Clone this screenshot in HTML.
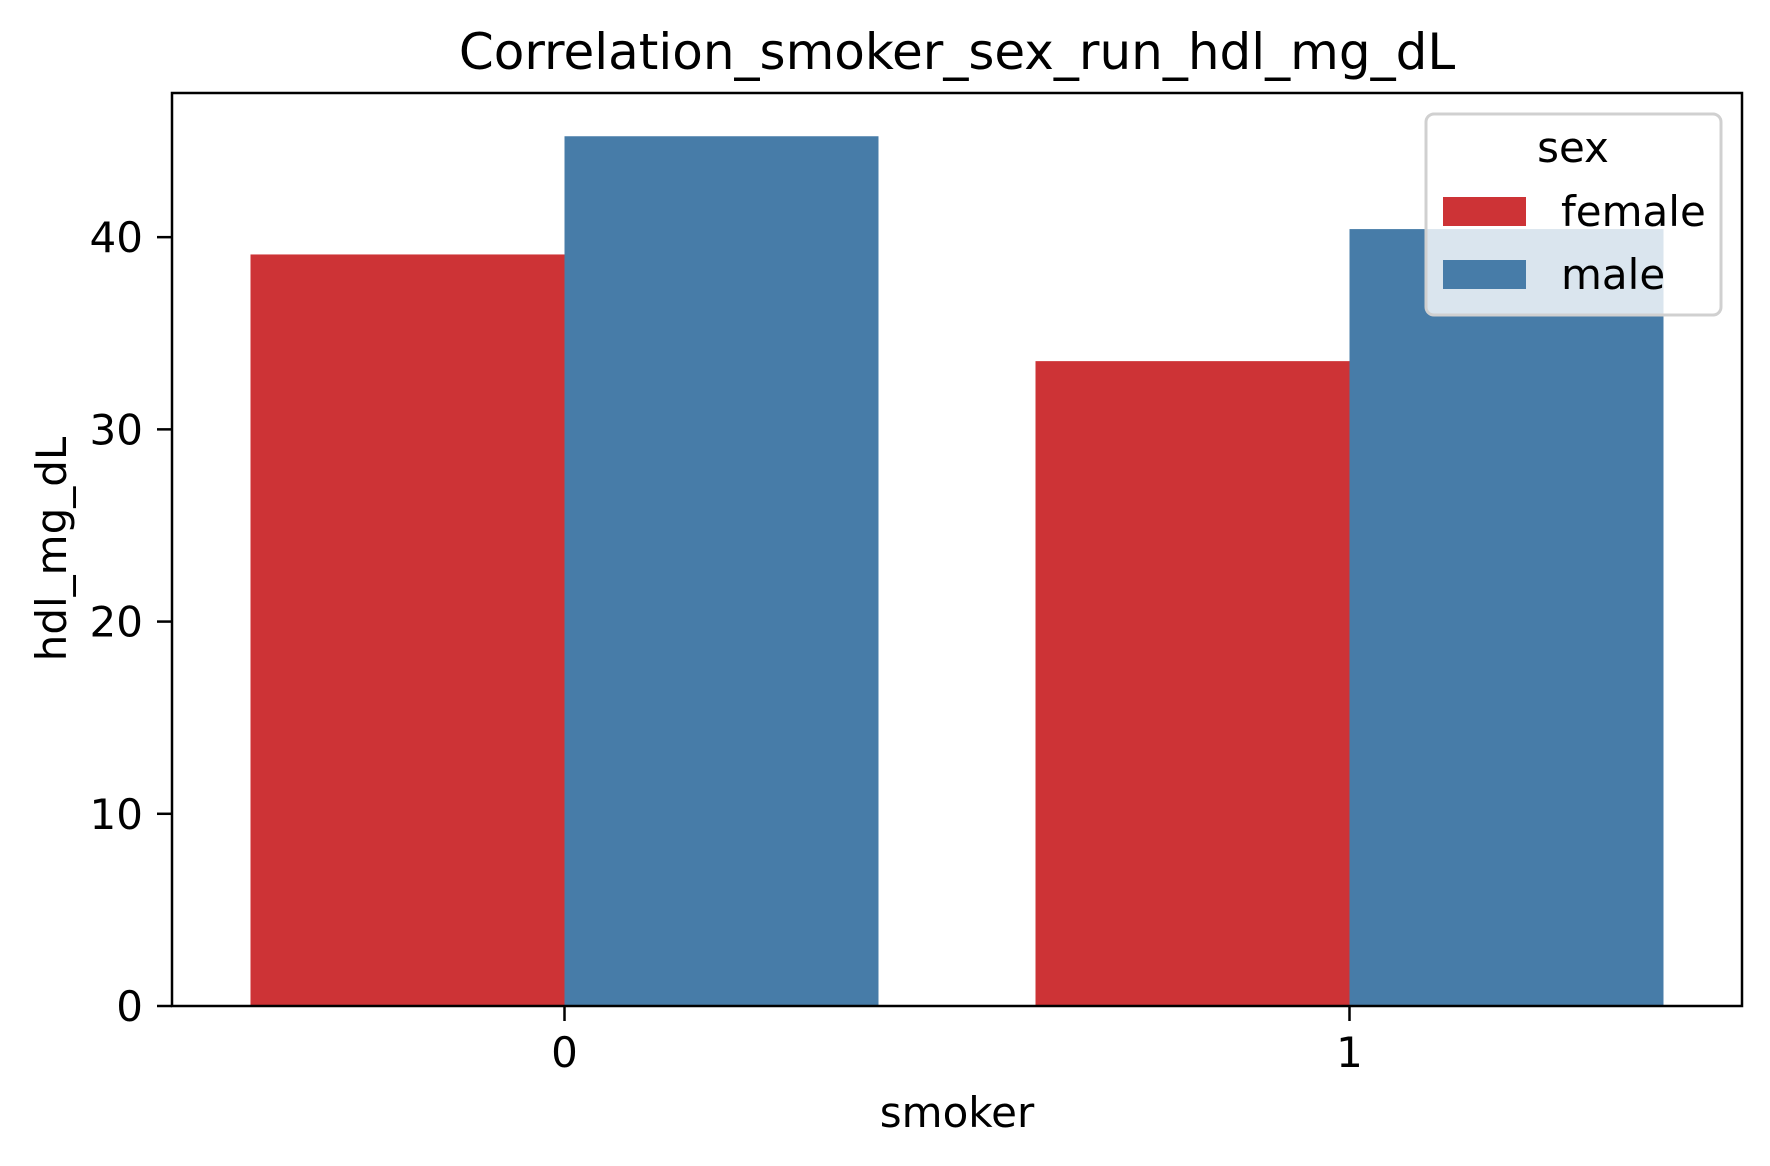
<!DOCTYPE html>
<html><head><meta charset="utf-8"><style>
html,body{margin:0;padding:0;background:#fff;}
svg{display:block;font-family:"DejaVu Sans","Liberation Sans",sans-serif;}
</style></head><body>
<svg id="chart" width="1770" height="1166" viewBox="0 0 1770 1166">
<rect width="1770" height="1166" fill="#fff"/>
<g id="bars"></g>
<g id="axes"></g>
<text x="957" y="69" font-size="50" text-anchor="middle">Correlation_smoker_sex_run_hdl_mg_dL</text>
<text x="957" y="1127" font-size="42" text-anchor="middle">smoker</text>
<text transform="translate(66,549) rotate(-90)" font-size="42" text-anchor="middle">hdl_mg_dL</text>
<g>
<rect x="1426" y="114" width="295" height="201" rx="8" fill="#fff" fill-opacity="0.8" stroke="#d0d0d0" stroke-width="3"/>
<text x="1573" y="162" font-size="42" text-anchor="middle">sex</text>
<rect x="1443" y="197" width="83" height="29" fill="#cd3336"/>
<text x="1561" y="226" font-size="42">female</text>
<rect x="1443" y="260" width="83" height="29" fill="#477ca8"/>
<text x="1561" y="289" font-size="42">male</text>
</g>
</svg>
<script>
const categories = ["0", "1"];
const seriesNames = ["female", "male"];
const femaleValues = [39.1, 33.55];
const maleValues = [45.25, 40.42];
const yTicks = [0, 10, 20, 30, 40];

const NS = "http://www.w3.org/2000/svg";
const L = 172, R = 1742, T = 93, B = 1006;
const yMax = 47.5;
const colors = ["#cd3336", "#477ca8"];
function y(v){ return B - v / yMax * (B - T); }
function x(i){ return L + (i + 0.5) / categories.length * (R - L); }
const step = (R - L) / categories.length;
const bw = step * 0.4;
function mk(tag, attrs){ const e = document.createElementNS(NS, tag); for (const k in attrs) e.setAttribute(k, attrs[k]); return e; }

const bars = document.getElementById("bars");
const series = [femaleValues, maleValues];
series.forEach((vals, s) => {
  vals.forEach((v, i) => {
    const x0 = x(i) - bw + s * bw;
    const r = mk("rect", {x: x0, y: y(v), width: bw, height: B - y(v), fill: colors[s]});
    
    
    bars.appendChild(r);
  });
});

const axes = document.getElementById("axes");
const frame = mk("rect", {x: L, y: T, width: R - L, height: B - T, fill: "none", stroke: "#000", "stroke-width": 2.5});


axes.appendChild(frame);
yTicks.forEach(t => {
  const ln = mk("line", {x1: L - 15, x2: L, y1: y(t), y2: y(t), stroke: "#000", "stroke-width": 2.5});
  
  
  axes.appendChild(ln);
  const tx = mk("text", {x: L - 29, y: y(t) + 15, "font-size": 42, "text-anchor": "end"});
  tx.textContent = String(t);
  
  
  axes.appendChild(tx);
});
categories.forEach((c, i) => {
  const ln = mk("line", {x1: x(i), x2: x(i), y1: B, y2: B + 15, stroke: "#000", "stroke-width": 2.5});
  
  
  axes.appendChild(ln);
  const tx = mk("text", {x: x(i), y: 1067, "font-size": 42, "text-anchor": "middle"});
  tx.textContent = c;
  
  
  axes.appendChild(tx);
});
</script>
</body></html>
